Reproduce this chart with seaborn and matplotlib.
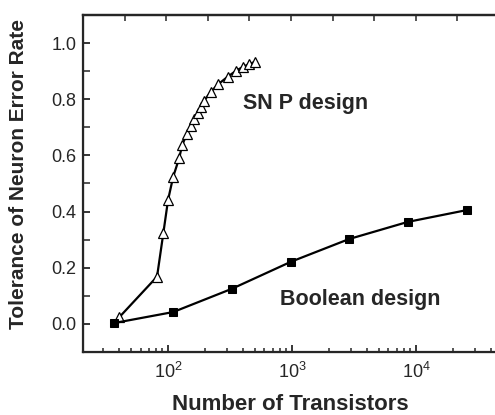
import numpy as np
import pandas as pd
import matplotlib
matplotlib.use("Agg")
import matplotlib.pyplot as plt
import seaborn as sns
from matplotlib.ticker import LogLocator, NullFormatter, MultipleLocator

# Data
snp_transistors = [40.5, 81.5, 91.6, 100, 110, 123, 130, 142, 152, 163, 174, 184, 195,
                   222, 255, 303, 353, 405, 453, 503]
snp_tolerance = [0.024, 0.168, 0.323, 0.441, 0.524, 0.590, 0.637, 0.676, 0.704, 0.728,
                 0.752, 0.773, 0.794, 0.827, 0.854, 0.880, 0.901, 0.916, 0.925, 0.933]

bool_transistors = [36.9, 110, 328, 980, 2890, 8600, 25700]
bool_tolerance = [0.003, 0.042, 0.125, 0.221, 0.302, 0.363, 0.405]

x_label = "Number of Transistors"
y_label = "Tolerance of Neuron Error Rate"
snp_text = "SN P design"
bool_text = "Boolean design"

sns.set_style("ticks")
plt.rcParams['font.family'] = ['Liberation Sans', 'DejaVu Sans']
plt.rcParams['mathtext.fontset'] = 'custom'
plt.rcParams['mathtext.rm'] = 'Liberation Sans'

fig = plt.figure(figsize=(4.95, 4.15), dpi=100)
ax = fig.add_axes([0.168, 0.152, 0.840, 0.812])

df_snp = pd.DataFrame({"x": snp_transistors, "y": snp_tolerance})
df_bool = pd.DataFrame({"x": bool_transistors, "y": bool_tolerance})

sns.lineplot(data=df_snp, x="x", y="y", ax=ax, sort=False, color="black", lw=1.6,
             marker="^", markersize=7.5, markerfacecolor="white",
             markeredgecolor="black", markeredgewidth=0.9)
sns.lineplot(data=df_bool, x="x", y="y", ax=ax, sort=False, color="black", lw=1.6,
             marker="s", markersize=6, markerfacecolor="black",
             markeredgecolor="black")

ax.set_xscale("log")
ax.set_xlim(10 ** 1.315, 10 ** 4.67)
ax.set_ylim(-0.1, 1.1)
ax.set_yticks([0.0, 0.2, 0.4, 0.6, 0.8, 1.0])
ax.yaxis.set_minor_locator(MultipleLocator(0.1))
ax.xaxis.set_major_locator(LogLocator(base=10, numticks=10))
ax.xaxis.set_minor_locator(LogLocator(base=10, subs=np.arange(2, 10), numticks=20))
ax.xaxis.set_minor_formatter(NullFormatter())

ax.tick_params(axis="both", which="major", direction="in", length=5, width=1.3, pad=5)
ax.tick_params(axis="x", which="major", pad=7)
ax.tick_params(axis="y", which="major", labelsize=13)
ax.tick_params(axis="x", which="major", labelsize=13)
ax.tick_params(axis="both", which="minor", direction="in", length=3, width=1.1)
ax.tick_params(axis="y", which="minor", length=5)

for s in ["left", "bottom", "top"]:
    ax.spines[s].set_linewidth(1.6)
ax.spines["right"].set_visible(False)

ax.set_xlabel(x_label, fontsize=16, fontweight="bold")
ax.set_ylabel(y_label, fontsize=15, fontweight="bold")
ax.xaxis.set_label_coords(0.499, -0.125)
ax.yaxis.set_label_coords(-0.133, 0.527)

ax.text(0.385, 0.736, snp_text, transform=ax.transAxes, fontsize=15.5,
        fontweight="bold", ha="left", va="center")
ax.text(0.474, 0.156, bool_text, transform=ax.transAxes, fontsize=15.5,
        fontweight="bold", ha="left", va="center")

# top axis with plain inward ticks
ax2 = ax.twiny()
ax2.set_xlim(0, 10)
ax2.set_xticks(range(1, 10))
ax2.tick_params(axis="x", direction="in", length=4, width=1.1, labeltop=False)
ax2.spines["right"].set_visible(False)
ax2.spines["top"].set_linewidth(1.6)

fig.savefig("out.png", dpi=100)
